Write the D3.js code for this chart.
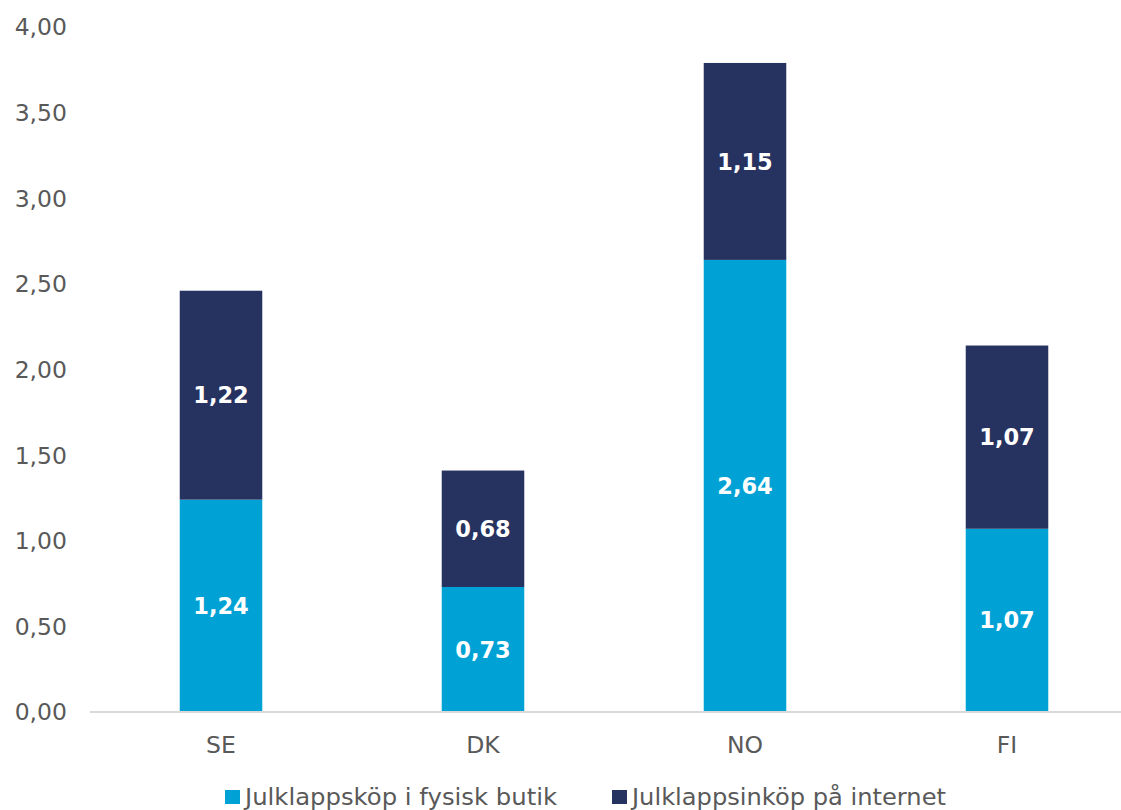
<!DOCTYPE html>
<html><head><meta charset="utf-8">
<script src="https://cdn.jsdelivr.net/npm/d3@7"></script>
<style>body{margin:0;background:#fff}svg{display:block}</style>
</head><body>
<svg id="c" width="1121" height="810"></svg>
<script>
const categories = ["SE","DK","NO","FI"];
const fysisk = [1.24,0.73,2.64,1.07];
const internet = [1.22,0.68,1.15,1.07];
const seriesNames = ["Julklappsköp i fysisk butik","Julklappsinköp på internet"];
const yTicks = [0,0.5,1,1.5,2,2.5,3,3.5,4];
const colors = ["#00A2D6","#263260"];
const font = "DejaVu Sans, Verdana, sans-serif";
const txt = "#595959";

const svg = d3.select("#c");
const x = d3.scaleBand().domain(categories).range([90,1138]).paddingInner(0.685).paddingOuter(0.3425);
const y = d3.scaleLinear().domain([0,4]).range([712,27]);
const fmt = v => d3.format(".2f")(v).replace(".", ",");

// y tick labels
svg.append("g").selectAll("text").data(yTicks).join("text")
  .attr("x",67).attr("y",d=>y(d)).attr("dy","0.36em")
  .attr("text-anchor","end").attr("font-family",font).attr("font-size",23.5)
  .attr("fill",txt).text(fmt);

const rows = categories.map((c,i)=>({c, a:fysisk[i], b:internet[i]}));
// bars
const g = svg.append("g");
g.selectAll("rect.a").data(rows).join("rect").attr("class","a")
  .attr("x",d=>x(d.c)).attr("width",x.bandwidth())
  .attr("y",d=>y(d.a)).attr("height",d=>y(0)-y(d.a)).attr("fill",colors[0]);
g.selectAll("rect.b").data(rows).join("rect").attr("class","b")
  .attr("x",d=>x(d.c)).attr("width",x.bandwidth())
  .attr("y",d=>y(d.a+d.b)).attr("height",d=>y(d.a)-y(d.a+d.b)).attr("fill",colors[1]);

// axis line
svg.append("line").attr("x1",90).attr("x2",1121).attr("y1",y(0)).attr("y2",y(0))
  .attr("stroke","#d9d9d9").attr("stroke-width",2);

// data labels
const lab = (sel, val, mid) => sel.attr("x",d=>x(d.c)+x.bandwidth()/2).attr("y",mid).attr("dy","0.36em")
  .attr("text-anchor","middle").attr("font-family",font).attr("font-weight","bold")
  .attr("font-size",22.5).attr("fill","#fff").text(d=>fmt(val(d)));
lab(g.selectAll("text.a").data(rows).join("text").attr("class","a"), d=>d.a, d=>(y(0)+y(d.a))/2);
lab(g.selectAll("text.b").data(rows).join("text").attr("class","b"), d=>d.b, d=>(y(d.a)+y(d.a+d.b))/2);

// x labels
svg.append("g").selectAll("text").data(categories).join("text")
  .attr("x",d=>x(d)+x.bandwidth()/2).attr("y",745).attr("dy","0.36em")
  .attr("text-anchor","middle").attr("font-family",font).attr("font-size",23.5)
  .attr("fill",txt).text(d=>d);

// legend
const leg = [{x:225, w:312},{x:612, w:314}];
seriesNames.forEach((n,i)=>{
  svg.append("rect").attr("x",leg[i].x).attr("y",790).attr("width",15).attr("height",14).attr("fill",colors[i]);
  svg.append("text").attr("x",leg[i].x+20).attr("y",797).attr("dy","0.36em")
    .attr("font-family",font).attr("font-size",23.5).attr("fill",txt)
    .attr("textLength",leg[i].w).attr("lengthAdjust","spacingAndGlyphs").text(n);
});
</script>
</body></html>
